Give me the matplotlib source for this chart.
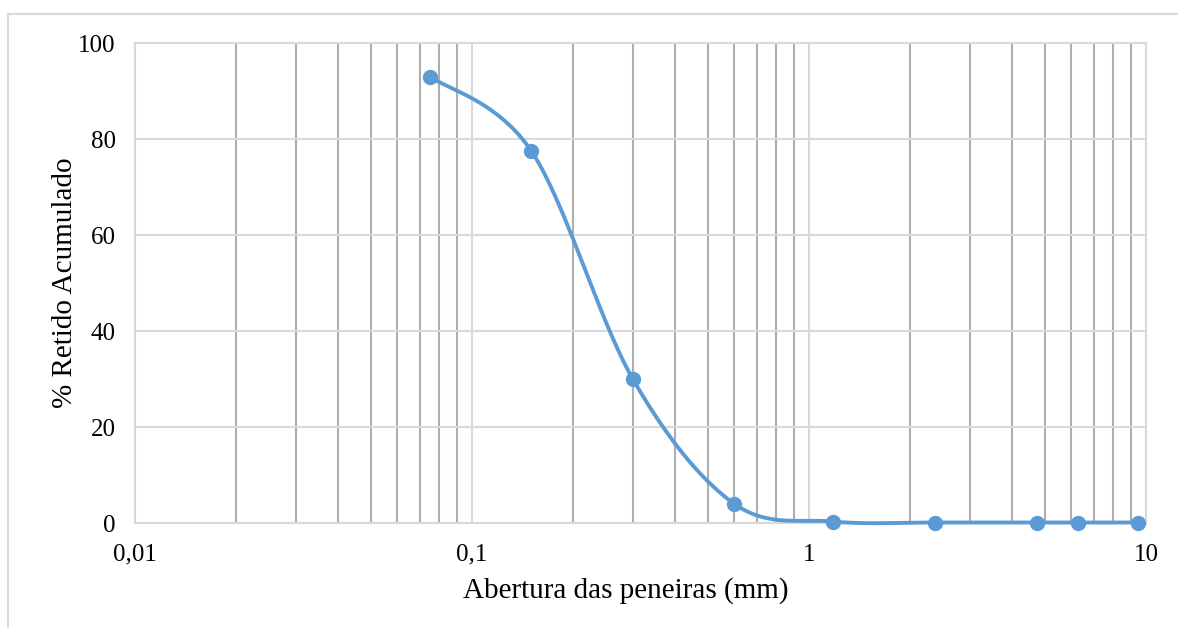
import matplotlib
matplotlib.use('Agg')
import numpy as np
import matplotlib.pyplot as plt
import matplotlib.ticker as mticker
from matplotlib.patches import Rectangle

# sieve openings (mm) and cumulative % retained
abertura = [0.075, 0.15, 0.3, 0.6, 1.18, 2.36, 4.75, 6.3, 9.5]
retido = [93.0, 77.5, 30.0, 4.0, 0.3, 0.1, 0.1, 0.1, 0.1]

x_ticks = [0.01, 0.1, 1, 10]
x_tick_labels = ['0,01', '0,1', '1', '10']
y_ticks = [0, 20, 40, 60, 80, 100]

LINE_BLUE = '#5B9BD5'
LIGHT_GRID = '#d9d9d9'
MINOR_GRID = '#b0adad'

plt.rcParams['font.family'] = ['Liberation Serif', 'DejaVu Serif']


def smooth_curve(ax, xs, ys, steps=40):
    """Bezier smoothing in screen space (control points at +-1/6 of neighbour chord)."""
    pts = ax.transData.transform(np.column_stack([xs, ys]))
    n = len(pts)
    out = []
    for i in range(n - 1):
        p0 = pts[max(i - 1, 0)]
        p1 = pts[i]
        p2 = pts[i + 1]
        p3 = pts[min(i + 2, n - 1)]
        c1 = p1 + (p2 - p0) / 6.0
        c2 = p2 - (p3 - p1) / 6.0
        t = np.linspace(0, 1, steps)[:, None]
        seg = ((1 - t) ** 3) * p1 + 3 * ((1 - t) ** 2) * t * c1 + 3 * (1 - t) * t ** 2 * c2 + t ** 3 * p2
        out.append(seg if i == 0 else seg[1:])
    out = np.vstack(out)
    data = ax.transData.inverted().transform(out)
    return data[:, 0], data[:, 1]


fig = plt.figure(figsize=(11.78, 6.28), dpi=100)
ax = fig.add_axes([135 / 1178, 1 - 523 / 628, (1146 - 135) / 1178, (523 - 43) / 628])

# outer chart frame
fig.patches.append(Rectangle((8 / 1178, -0.1), 1.2, 1 - 14 / 628 + 0.1, transform=fig.transFigure,
                             fill=False, edgecolor=LIGHT_GRID, linewidth=1.5))

ax.set_xscale('log')
ax.set_xlim(0.01, 10)
ax.set_ylim(0, 100)

ax.xaxis.set_major_locator(mticker.FixedLocator(x_ticks))
ax.xaxis.set_major_formatter(mticker.FixedFormatter(x_tick_labels))
ax.xaxis.set_minor_locator(mticker.LogLocator(base=10, subs=np.arange(2, 10)))
ax.xaxis.set_minor_formatter(mticker.NullFormatter())
ax.yaxis.set_major_locator(mticker.FixedLocator(y_ticks))

ax.grid(True, which='major', axis='both', color=LIGHT_GRID, linewidth=1.5)
ax.grid(True, which='minor', axis='x', color=MINOR_GRID, linewidth=1.5)
ax.set_axisbelow(True)
ax.tick_params(which='both', length=0, labelsize=18, colors='black')
ax.tick_params(axis='x', pad=15)
ax.tick_params(axis='y', pad=14)

for side in ['top', 'right', 'left', 'bottom']:
    ax.spines[side].set_color(LIGHT_GRID)
    ax.spines[side].set_linewidth(1.5)

sx, sy = smooth_curve(ax, abertura, retido)
ax.plot(sx, sy, color=LINE_BLUE, linewidth=2.8, solid_capstyle='round', zorder=3, clip_on=False)
ax.plot(abertura, retido, 'o', color=LINE_BLUE, markersize=10, zorder=4, clip_on=False)

ax.set_xlabel('Abertura das peneiras (mm)', fontsize=21, labelpad=8)
ax.xaxis.label.set_x(0.4857)
ax.set_ylabel('% Retido Acumulado', fontsize=21, labelpad=0)

fig.savefig('out.png', dpi=100)
